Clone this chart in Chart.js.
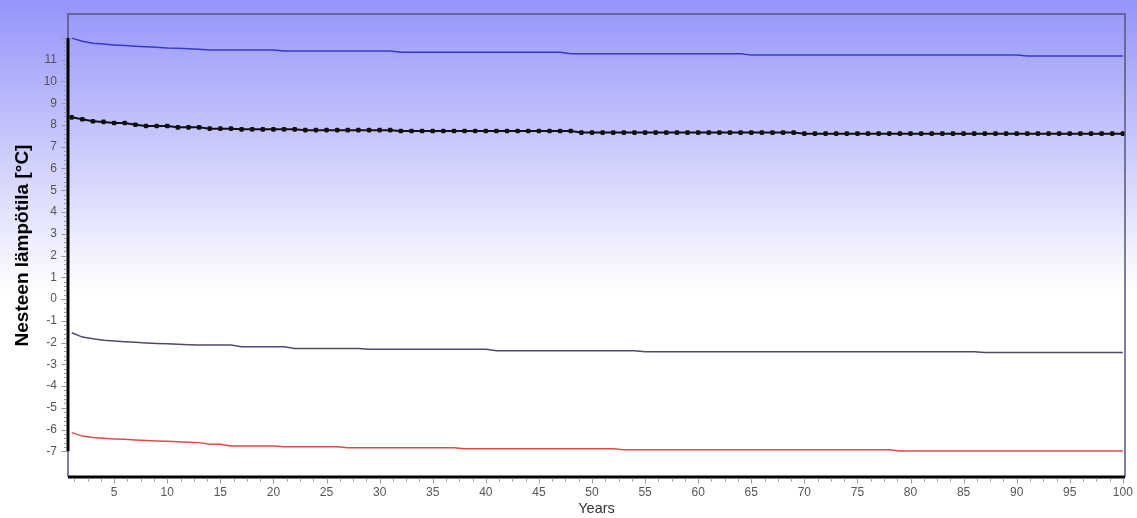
<!DOCTYPE html>
<html>
<head>
<meta charset="utf-8">
<script src="https://cdn.jsdelivr.net/npm/chart.js@4"></script>
<style>
html,body{margin:0;padding:0;background:#fff;}
canvas{display:block;}
</style>
</head>
<body>
<canvas id="c" width="1137" height="518"></canvas>
<script>
const years = [1,2,3,4,5,6,7,8,9,10,11,12,13,14,15,16,17,18,19,20,21,22,23,24,25,26,27,28,29,30,31,32,33,34,35,36,37,38,39,40,41,42,43,44,45,46,47,48,49,50,51,52,53,54,55,56,57,58,59,60,61,62,63,64,65,66,67,68,69,70,71,72,73,74,75,76,77,78,79,80,81,82,83,84,85,86,87,88,89,90,91,92,93,94,95,96,97,98,99,100];

const upperValues = [11.99,11.85,11.76,11.72,11.68,11.65,11.62,11.6,11.57,11.54,11.53,11.5,11.48,
11.45,11.45,11.45,11.45,11.45,11.45,11.45,
11.4,11.4,11.4,11.4,11.4,11.4,11.4,11.4,11.4,11.4,11.4,
11.34,11.34,11.34,11.34,11.34,11.34,11.34,11.34,11.34,11.34,11.34,11.34,11.34,11.34,11.34,11.34,
11.27,11.27,11.27,11.27,11.27,11.27,11.27,11.27,11.27,11.27,11.27,11.27,11.27,11.27,11.27,11.27,11.27,
11.21,11.21,11.21,11.21,11.21,11.21,11.21,11.21,11.21,11.21,11.21,11.21,11.21,11.21,11.21,11.21,11.21,11.21,11.21,11.21,11.21,11.21,11.21,11.21,11.21,11.21,
11.17,11.17,11.17,11.17,11.17,11.17,11.17,11.17,11.17,11.17];

const meanValues = [8.35,8.26,8.17,8.14,8.09,8.09,8.01,7.95,7.95,7.95,7.89,7.89,7.89,7.83,7.83,7.83,
7.8,7.8,7.8,7.8,7.8,7.8,
7.76,7.76,7.76,7.76,7.76,7.76,7.76,7.76,7.76,
7.72,7.72,7.72,7.72,7.72,7.72,7.72,7.72,7.72,7.72,7.72,7.72,7.72,7.72,7.72,7.72,7.72,
7.65,7.65,7.65,7.65,7.65,7.65,7.65,7.65,7.65,7.65,7.65,7.65,7.65,7.65,7.65,7.65,7.65,7.65,7.65,7.65,7.65,
7.6,7.6,7.6,7.6,7.6,7.6,7.6,7.6,7.6,7.6,7.6,7.6,7.6,7.6,7.6,7.6,7.6,7.6,7.6,7.6,7.6,7.6,7.6,7.6,7.6,7.6,7.6,7.6,7.6,7.6,7.6];

const lowerValues = [-1.55,-1.75,-1.83,-1.89,-1.93,-1.96,-1.99,-2.02,-2.04,-2.06,-2.08,-2.1,
-2.11,-2.11,-2.11,-2.11,
-2.19,-2.19,-2.19,-2.19,-2.19,
-2.27,-2.27,-2.27,-2.27,-2.27,-2.27,-2.27,
-2.31,-2.31,-2.31,-2.31,-2.31,-2.31,-2.31,-2.31,-2.31,-2.31,-2.31,-2.31,
-2.38,-2.38,-2.38,-2.38,-2.38,-2.38,-2.38,-2.38,-2.38,-2.38,-2.38,-2.38,-2.38,-2.38,
-2.42,-2.42,-2.42,-2.42,-2.42,-2.42,-2.42,-2.42,-2.42,-2.42,-2.42,-2.42,-2.42,-2.42,-2.42,-2.42,-2.42,-2.42,-2.42,-2.42,-2.42,-2.42,-2.42,-2.42,-2.42,-2.42,-2.42,-2.42,-2.42,-2.42,-2.42,-2.42,
-2.46,-2.46,-2.46,-2.46,-2.46,-2.46,-2.46,-2.46,-2.46,-2.46,-2.46,-2.46,-2.46,-2.46];

const minValues = [-6.14,-6.3,-6.36,-6.4,-6.43,-6.45,-6.48,-6.5,-6.52,-6.54,-6.56,-6.58,-6.6,
-6.67,-6.67,
-6.76,-6.76,-6.76,-6.76,-6.76,
-6.79,-6.79,-6.79,-6.79,-6.79,-6.79,
-6.84,-6.84,-6.84,-6.84,-6.84,-6.84,-6.84,-6.84,-6.84,-6.84,-6.84,
-6.88,-6.88,-6.88,-6.88,-6.88,-6.88,-6.88,-6.88,-6.88,-6.88,-6.88,-6.88,-6.88,-6.88,-6.88,
-6.93,-6.93,-6.93,-6.93,-6.93,-6.93,-6.93,-6.93,-6.93,-6.93,-6.93,-6.93,-6.93,-6.93,-6.93,-6.93,-6.93,-6.93,-6.93,-6.93,-6.93,-6.93,-6.93,-6.93,-6.93,-6.93,
-6.98,-6.98,-6.98,-6.98,-6.98,-6.98,-6.98,-6.98,-6.98,-6.98,-6.98,-6.98,-6.98,-6.98,-6.98,-6.98,-6.98,-6.98,-6.98,-6.98,-6.98,-6.98];

const xTickValues = [5,10,15,20,25,30,35,40,45,50,55,60,65,70,75,80,85,90,95,100];
const yTickValues = [-7,-6,-5,-4,-3,-2,-1,0,1,2,3,4,5,6,7,8,9,10,11];

const toXY = vals => vals.map((v, i) => ({x: years[i], y: v}));

const bgPlugin = {
  id: 'bg',
  beforeDraw(chart) {
    const ctx = chart.ctx;
    const g = ctx.createLinearGradient(0, 0, 0, chart.height);
    g.addColorStop(0, 'rgb(148,148,250)');
    g.addColorStop(0.56, 'rgb(255,255,255)');
    g.addColorStop(1, 'rgb(255,255,255)');
    ctx.save();
    ctx.fillStyle = g;
    ctx.fillRect(0, 0, chart.width, chart.height);
    ctx.restore();
  }
};

const framePlugin = {
  id: 'frame',
  afterDraw(chart) {
    const ctx = chart.ctx;
    const a = chart.chartArea;
    const xs = chart.scales.x, ys = chart.scales.y;
    ctx.save();
    ctx.strokeStyle = '#55557a';
    ctx.lineWidth = 1.5;
    ctx.beginPath();
    ctx.moveTo(a.left, a.bottom);
    ctx.lineTo(a.left, a.top);
    ctx.lineTo(a.right, a.top);
    ctx.lineTo(a.right, a.bottom);
    ctx.stroke();
    ctx.strokeStyle = '#000';
    ctx.lineWidth = 3;
    ctx.beginPath();
    ctx.moveTo(a.left, ys.getPixelForValue(-7));
    ctx.lineTo(a.left, ys.getPixelForValue(12));
    ctx.stroke();
    ctx.beginPath();
    ctx.moveTo(a.left, a.bottom);
    ctx.lineTo(a.right, a.bottom);
    ctx.stroke();
    ctx.strokeStyle = '#999';
    ctx.lineWidth = 1;
    for (let k = -35; k <= 60; k++) {
      const v = k / 5;
      const py = Math.round(ys.getPixelForValue(v)) + 0.5;
      const len = (k % 5 === 0) ? 5 : 2.5;
      ctx.beginPath();
      ctx.moveTo(a.left - 1.5, py);
      ctx.lineTo(a.left - 1.5 - len, py);
      ctx.stroke();
    }
    for (let k = 1; k <= 80; k++) {
      const v = k * 1.25;
      const px = Math.round(xs.getPixelForValue(v)) + 0.5;
      const len = (k % 4 === 0) ? 5 : 3;
      ctx.beginPath();
      ctx.moveTo(px, a.bottom + 1.5);
      ctx.lineTo(px, a.bottom + 1.5 + len);
      ctx.stroke();
    }
    ctx.restore();
  }
};

new Chart(document.getElementById('c'), {
  type: 'line',
  data: {
    datasets: [
      {label: 'Max', data: toXY(upperValues), borderColor: '#3838cc', borderWidth: 1.5, pointRadius: 0, tension: 0},
      {label: 'Mean', data: toXY(meanValues), borderColor: '#111', borderWidth: 2, pointRadius: 2.7, pointStyle: 'rectRounded', pointBackgroundColor: '#111', pointBorderColor: '#111', pointBorderWidth: 0, tension: 0},
      {label: 'Low', data: toXY(lowerValues), borderColor: '#56466e', borderWidth: 1.5, pointRadius: 0, tension: 0},
      {label: 'Min', data: toXY(minValues), borderColor: '#dd4a4a', borderWidth: 1.5, pointRadius: 0, tension: 0}
    ]
  },
  options: {
    responsive: false,
    devicePixelRatio: 1,
    animation: false,
    layout: {padding: {top: 14, right: 12, left: 0, bottom: 0}},
    plugins: {legend: {display: false}, tooltip: {enabled: false}},
    scales: {
      x: {
        type: 'linear', min: 0.65, max: 100.2,
        afterBuildTicks: s => { s.ticks = xTickValues.map(v => ({value: v})); },
        afterFit: s => { s.height = 41; s.paddingLeft = 0; s.paddingRight = 0; },
        grid: {display: false, drawTicks: false},
        border: {display: false},
        ticks: {font: {family: 'Liberation Sans', size: 12}, color: '#555', padding: 8, maxRotation: 0, autoSkip: false},
        title: {display: true, text: 'Years', font: {family: 'Liberation Sans', size: 14.5}, color: '#333', padding: {top: 1, bottom: 0}}
      },
      y: {
        type: 'linear', min: -8.18, max: 13.1,
        afterBuildTicks: s => { s.ticks = yTickValues.map(v => ({value: v})); },
        afterFit: s => { s.width = 68; s.paddingTop = 0; s.paddingBottom = 0; },
        grid: {display: false, drawTicks: false},
        border: {display: false},
        ticks: {font: {family: 'Liberation Sans', size: 12}, color: '#555', padding: 11, autoSkip: false},
        title: {display: true, text: 'Nesteen lämpötila [°C]', font: {family: 'Liberation Sans', size: 19, weight: 'bold'}, color: '#000', padding: {top: 11, bottom: 0}}
      }
    }
  },
  plugins: [bgPlugin, framePlugin]
});
</script>
</body>
</html>
